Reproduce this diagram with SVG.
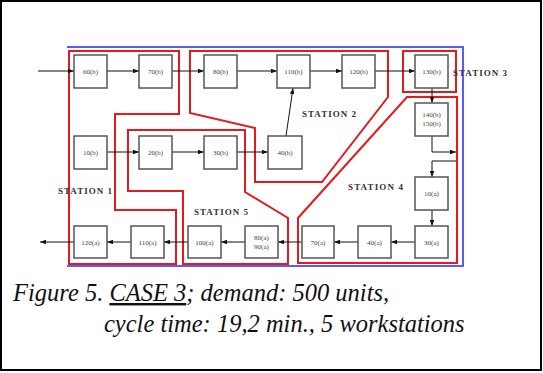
<svg xmlns="http://www.w3.org/2000/svg" width="543" height="373" viewBox="0 0 543 373">
<style>
.st{fill:none;stroke:#e41a1c;stroke-width:2;stroke-linejoin:miter}
.bx rect{fill:#fff;stroke:#555;stroke-width:1.5}
.bx text{font-family:"Liberation Serif",serif;font-size:7px;fill:#444;text-anchor:middle}
.lbl{font-family:"Liberation Serif",serif;font-size:9px;font-weight:bold;fill:#333}
.cn{fill:none;stroke:#111;stroke-width:1;marker-end:url(#ah)}
.cap{font-family:"Liberation Serif",serif;font-style:italic;font-size:24.5px;fill:#111}
</style>
<defs>
<marker id="ah" viewBox="0 0 8 6" refX="8" refY="3" markerWidth="6" markerHeight="4.5" markerUnits="userSpaceOnUse" orient="auto">
<path d="M0,0 L8,3 L0,6 z" fill="#111"/>
</marker>
</defs>
<rect x="1" y="1" width="540" height="369" fill="#fff" stroke="#000" stroke-width="2"/>
<g id="frame">
<path d="M67,47 H463 V266 H67" fill="none" stroke="#5a5aff" stroke-width="2"/>
</g>
<g id="stations">
<polygon id="station1-zone" class="st" points="69,51 179,51 179,114 115,114 115,210 176,210 176,264 69,264"/>
<polygon id="station2-zone" class="st" points="190,51 388,51 388,97 322,182 255,182 255,128 190,113"/>
<polygon id="station3-zone" class="st" points="403,51 456,51 456,92 403,92"/>
<polygon id="station4-zone" class="st" points="407,97 457,97 457,263 298,263 298,218"/>
<polygon id="station5-zone" class="st" points="128,130 245,130 245,192 288,218 288,264 183,264 183,191 128,191"/>
</g>
<g id="connectors">
<line class="cn" x1="38" y1="71" x2="74" y2="71"/>
<line class="cn" x1="107" y1="71" x2="139" y2="71"/>
<line class="cn" x1="172" y1="71" x2="204" y2="71"/>
<line class="cn" x1="237" y1="71" x2="277" y2="71"/>
<line class="cn" x1="310" y1="71" x2="342" y2="71"/>
<line class="cn" x1="375" y1="71" x2="415" y2="71"/>
<line class="cn" x1="432" y1="88" x2="432" y2="103"/>
<path class="cn" d="M432,136 V152 H456"/>
<path class="cn" d="M456,161 H432 V177"/>
<line class="cn" x1="432" y1="210" x2="432" y2="226"/>
<line class="cn" x1="415" y1="242" x2="391" y2="242"/>
<line class="cn" x1="358" y1="242" x2="334" y2="242"/>
<line class="cn" x1="302" y1="242" x2="278" y2="242"/>
<line class="cn" x1="245" y1="242" x2="221" y2="242"/>
<line class="cn" x1="188" y1="242" x2="164" y2="242"/>
<line class="cn" x1="131" y1="242" x2="107" y2="242"/>
<line class="cn" x1="74" y1="242" x2="40" y2="242"/>
<line class="cn" x1="107" y1="152" x2="139" y2="152"/>
<line class="cn" x1="172" y1="152" x2="204" y2="152"/>
<line class="cn" x1="237" y1="152" x2="268" y2="152"/>
<line class="cn" x1="286" y1="136" x2="293" y2="88"/>
</g>
<g id="n60b" class="bx"><rect x="74" y="55" width="33" height="33"/><text x="90.5" y="74">60(b)</text></g>
<g id="n70b" class="bx"><rect x="139" y="55" width="33" height="33"/><text x="155.5" y="74">70(b)</text></g>
<g id="n80b" class="bx"><rect x="204" y="55" width="33" height="33"/><text x="220.5" y="74">80(b)</text></g>
<g id="n110b" class="bx"><rect x="277" y="55" width="33" height="33"/><text x="293.5" y="74">110(b)</text></g>
<g id="n120b" class="bx"><rect x="342" y="55" width="33" height="33"/><text x="358.5" y="74">120(b)</text></g>
<g id="n130b" class="bx"><rect x="415" y="55" width="33" height="33"/><text x="431.5" y="74">130(b)</text></g>
<g id="n140b150b" class="bx"><rect x="415" y="103" width="33" height="33"/><text x="431.5" y="117">140(b)</text><text x="431.5" y="126">150(b)</text></g>
<g id="n10a" class="bx"><rect x="415" y="177" width="33" height="33"/><text x="431.5" y="196">10(a)</text></g>
<g id="n30a" class="bx"><rect x="415" y="226" width="33" height="32"/><text x="431.5" y="245">30(a)</text></g>
<g id="n40a" class="bx"><rect x="358" y="226" width="33" height="32"/><text x="374.5" y="245">40(a)</text></g>
<g id="n70a" class="bx"><rect x="302" y="226" width="32" height="32"/><text x="318" y="245">70(a)</text></g>
<g id="n80a90a" class="bx"><rect x="245" y="226" width="33" height="32"/><text x="261.5" y="240">80(a)</text><text x="261.5" y="249">90(a)</text></g>
<g id="n100a" class="bx"><rect x="188" y="226" width="33" height="32"/><text x="204.5" y="245">100(a)</text></g>
<g id="n110a" class="bx"><rect x="131" y="226" width="33" height="32"/><text x="147.5" y="245">110(a)</text></g>
<g id="n120a" class="bx"><rect x="74" y="226" width="33" height="32"/><text x="90.5" y="245">120(a)</text></g>
<g id="n10b" class="bx"><rect x="74" y="136" width="33" height="33"/><text x="90.5" y="155">10(b)</text></g>
<g id="n20b" class="bx"><rect x="139" y="136" width="33" height="33"/><text x="155.5" y="155">20(b)</text></g>
<g id="n30b" class="bx"><rect x="204" y="136" width="33" height="33"/><text x="220.5" y="155">30(b)</text></g>
<g id="n40b" class="bx"><rect x="268" y="136" width="34" height="33"/><text x="285" y="155">40(b)</text></g>
<g id="labels">
<text class="lbl" x="58" y="194" textLength="54">STATION 1</text>
<text class="lbl" x="302" y="117" textLength="54">STATION 2</text>
<text class="lbl" x="453" y="76" textLength="54">STATION 3</text>
<text class="lbl" x="348" y="190" textLength="55">STATION 4</text>
<text class="lbl" x="194" y="215" textLength="54">STATION 5</text>
</g>
<g id="caption">
<text class="cap" x="13" y="301">Figure 5. <tspan text-decoration="underline">CASE 3</tspan>; demand: 500 units,</text>
<text class="cap" x="104" y="332">cycle time: 19,2 min., 5 workstations</text>
</g>
</svg>
